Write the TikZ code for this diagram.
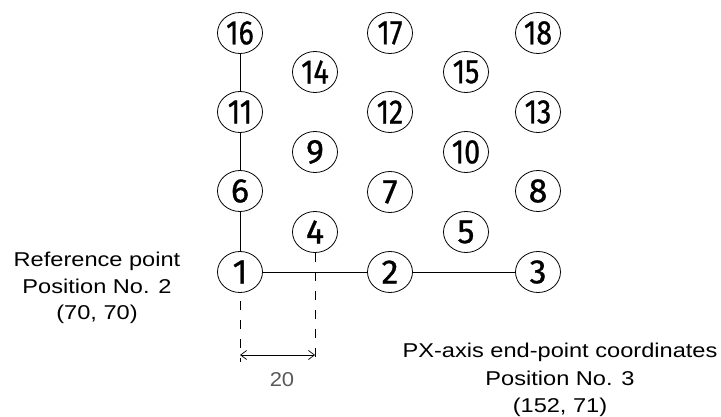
\documentclass[tikz,border=0pt]{standalone}
\usepackage{fontspec}
\setmainfont{Liberation Sans}
\newfontfamily\digitfont[FakeBold=0.9,Numbers=Proportional]{Fira Sans}
\newcommand\narrowpair[1]{\scalebox{0.84}[1]{#1}}
\usetikzlibrary{shapes.geometric,arrows.meta}
\begin{document}
\begin{tikzpicture}[x=1pt,y=-1pt,
  posn/.style={draw=black, line width=0.8pt, ellipse, minimum width=45pt, minimum height=41pt, inner sep=0pt, font=\digitfont\fontsize{34}{34}\selectfont},
  lbl/.style={font=\fontsize{20}{24}\selectfont, anchor=base, inner sep=0pt},
  link/.style={line width=0.8pt},
  guide/.style={line width=0.8pt, dash pattern=on 9pt off 10pt},
  dimline/.style={line width=0.7pt, {Straight Barb[length=6pt,width=9pt]}-{Straight Barb[length=6pt,width=9pt]}}
  ]
\useasboundingbox (0,0) rectangle (721,417);
% positions
\node[posn] (p16) at (240,33) {\narrowpair{16}};
\node[posn] (p17) at (390,33) {\narrowpair{17}};
\node[posn] (p18) at (538,33) {\narrowpair{18}};
\node[posn] (p14) at (315,72) {\narrowpair{14}};
\node[posn] (p15) at (466,72) {\narrowpair{15}};
\node[posn] (p11) at (240,112) {\narrowpair{11}};
\node[posn] (p12) at (390,112) {\narrowpair{12}};
\node[posn] (p13) at (538,112) {\narrowpair{13}};
\node[posn] (p9) at (315,152) {9};
\node[posn] (p10) at (466,152) {\narrowpair{10}};
\node[posn] (p6) at (240,191) {6};
\node[posn] (p7) at (390,192) {7};
\node[posn] (p8) at (538,191) {8};
\node[posn] (p4) at (315,232) {4};
\node[posn] (p5) at (466,232) {5};
\node[posn] (p1) at (240,272) {1};
\node[posn] (p2) at (390,272) {2};
\node[posn] (p3) at (538,272) {3};
% connectors
\draw[link] (p16) -- (p11);
\draw[link] (p11) -- (p6);
\draw[link] (p6) -- (p1);
\draw[link] (p1) -- (p2);
\draw[link] (p2) -- (p3);
% dimension
\coordinate (d1top) at (240,301);
\coordinate (d1bot) at (240,362);
\coordinate (d4bot) at (315,362);
\coordinate (a1) at (240,355);
\coordinate (a4) at (315,355);
\draw[guide] (d1top) -- (d1bot);
\draw[guide] (p4.south) -- (d4bot);
\draw[dimline] (a1) -- (a4);
\node[lbl, text=black!65] (dim) at (282,386) {\scalebox{1.1}[1]{20}};
% labels
\node[lbl] (ref1) at (97,266) {\scalebox{1.18}[1]{Reference point}};
\node[lbl] (ref2) at (97,293) {\scalebox{1.18}[1]{Position No. 2}};
\node[lbl] (ref3) at (97,319) {\scalebox{1.18}[1]{(70, 70)}};
\node[lbl] (end1) at (560,357) {\scalebox{1.18}[1]{PX-axis end-point coordinates}};
\node[lbl] (end2) at (560,385) {\scalebox{1.18}[1]{Position No. 3}};
\node[lbl] (end3) at (560,412) {\scalebox{1.18}[1]{(152, 71)}};
\end{tikzpicture}
\end{document}
